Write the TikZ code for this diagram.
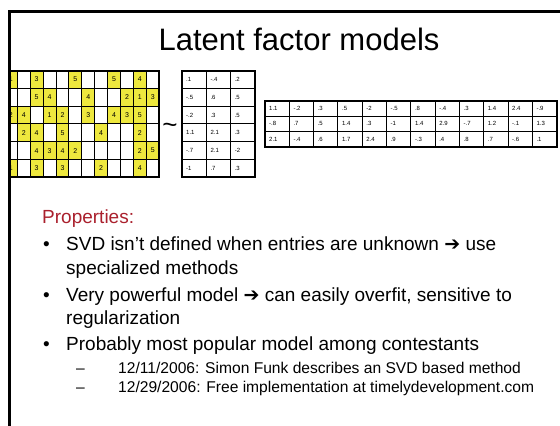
\documentclass[tikz,border=0pt]{standalone}
\usepackage{fontspec}
\setmainfont{Liberation Sans}
\newfontfamily\dingfont{DejaVu Sans}
\definecolor{cellyellow}{RGB}{238,232,62}
\definecolor{headred}{RGB}{170,32,45}
\tikzset{
  frameline/.style={line width=2.5pt},
  gridthin/.style={line width=1pt},
  gridthick/.style={line width=2pt},
  bignum/.style={font=\fontsize{7}{8}\selectfont, inner sep=0pt},
  smallnum/.style={font=\fontsize{6}{7}\selectfont, inner sep=0pt, anchor=west},
  bodytext/.style={font=\fontsize{19}{23}\selectfont, inner sep=0pt, anchor=base west},
  subtext/.style={font=\fontsize{15.6}{19}\selectfont, inner sep=0pt, anchor=base west},
}
\begin{document}
\begin{tikzpicture}[x=1pt,y=-1pt]
\useasboundingbox (0,0) rectangle (560,426);
\fill[white] (0,0) rectangle (560,426);

% title
\node[anchor=base, inner sep=0pt, font=\fontsize{31}{37}\selectfont] (title) at (299,50) {Latent factor models};

% sparse rating matrix (first column runs under the slide edge)
\begin{scope}
  \clip (9.5,60) rectangle (175,190);
  \foreach \r/\c/\v in {1/1/1, 1/3/3, 1/6/5, 1/9/5, 1/11/4,
                        2/3/5, 2/4/4, 2/7/4, 2/10/2, 2/11/1, 2/12/3,
                        3/1/2, 3/2/4, 3/4/1, 3/5/2, 3/7/3, 3/9/4, 3/10/3, 3/11/5,
                        4/2/2, 4/3/4, 4/5/5, 4/8/4, 4/11/2,
                        5/3/4, 5/4/3, 5/5/4, 5/6/2, 5/11/2, 5/12/5,
                        6/1/1, 6/3/3, 6/5/3, 6/8/2, 6/11/4} {
    \fill[cellyellow] ({4.4+(\c-1)*12.9},{70.5+(\r-1)*17.8}) rectangle ++(12.9,17.8);
    \node[bignum] (R-\r-\c) at ({4.4+(\c-0.5)*12.9},{70.5+(\r-0.5)*17.8}) {\v};
  }
  \foreach \i in {0,...,12} \draw[gridthin] ({4.4+\i*12.9},70.5) -- ++(0,106.8);
  \foreach \j in {0,...,6} \draw[gridthin] (4.4,{70.5+\j*17.8}) -- ++(154.8,0);
  \draw[gridthick] (4.4,70.5) rectangle (159.2,177.3);
\end{scope}

% approximation sign
\node[anchor=base, inner sep=0pt, font=\fontsize{26}{30}\selectfont] (approx) at (170,133.5) {\textasciitilde};

% user factor matrix (6 x 3)
\foreach \row [count=\r] in {{.1,-.4,.2},{-.5,.6,.5},{-.2,.3,.5},{1.1,2.1,.3},{-.7,2.1,-2},{-1,.7,.3}} {
  \foreach \v [count=\c] in \row {
    \node[smallnum] (U-\r-\c) at ({182+(\c-1)*24.3+4},{70.5+(\r-0.5)*17.8}) {\v};
  }
}
\foreach \i in {1,2} \draw[gridthin] ({182+\i*24.3},70.5) -- ++(0,106.8);
\foreach \j in {1,...,5} \draw[gridthin] (182,{70.5+\j*17.8}) -- ++(72.9,0);
\draw[gridthick] (182,70.5) rectangle (254.9,177.3);

% item factor matrix (3 x 12)
\foreach \row [count=\r] in {{1.1,-.2,.3,.5,-2,-.5,.8,-.4,.3,1.4,2.4,-.9},
                             {-.8,.7,.5,1.4,.3,-1,1.4,2.9,-.7,1.2,-.1,1.3},
                             {2.1,-.4,.6,1.7,2.4,.9,-.3,.4,.8,.7,-.6,.1}} {
  \foreach \v [count=\c] in \row {
    \node[smallnum] (V-\r-\c) at ({265+(\c-1)*24.3+4},{100.5+(\r-0.5)*15.5}) {\v};
  }
}
\foreach \i in {1,...,11} \draw[gridthin] ({265+\i*24.3},100.5) -- ++(0,46.5);
\foreach \j in {1,2} \draw[gridthin] (265,{100.5+\j*15.5}) -- ++(291.6,0);
\draw[gridthick] (265,100.5) rectangle (556.6,147);

% slide frame
\draw[frameline] (9.5,430) -- (9.5,11.5) -- (565,11.5);

% bullet text
\node[bodytext, text=headred] (props) at (42,223) {Properties:};
\node[bodytext] (b1) at (43,250) {\textbullet};
\node[bodytext] (t1a) at (66,250) {SVD isn’t defined when entries are unknown {\dingfont ➔} use};
\node[bodytext] (t1b) at (66,274) {specialized methods};
\node[bodytext] (b2) at (43,301) {\textbullet};
\node[bodytext] (t2a) at (66,301) {Very powerful model {\dingfont ➔} can easily overfit, sensitive to};
\node[bodytext] (t2b) at (66,324) {regularization};
\node[bodytext] (b3) at (43,350) {\textbullet};
\node[bodytext] (t3) at (66,350) {Probably most popular model among contestants};
\node[subtext] (d1) at (76,373) {–};
\node[subtext] (s1) at (118,373) {12/11/2006: Simon Funk describes an SVD based method};
\node[subtext] (d2) at (76,392) {–};
\node[subtext] (s2) at (118,392) {12/29/2006: Free implementation at timelydevelopment.com};
\end{tikzpicture}
\end{document}
